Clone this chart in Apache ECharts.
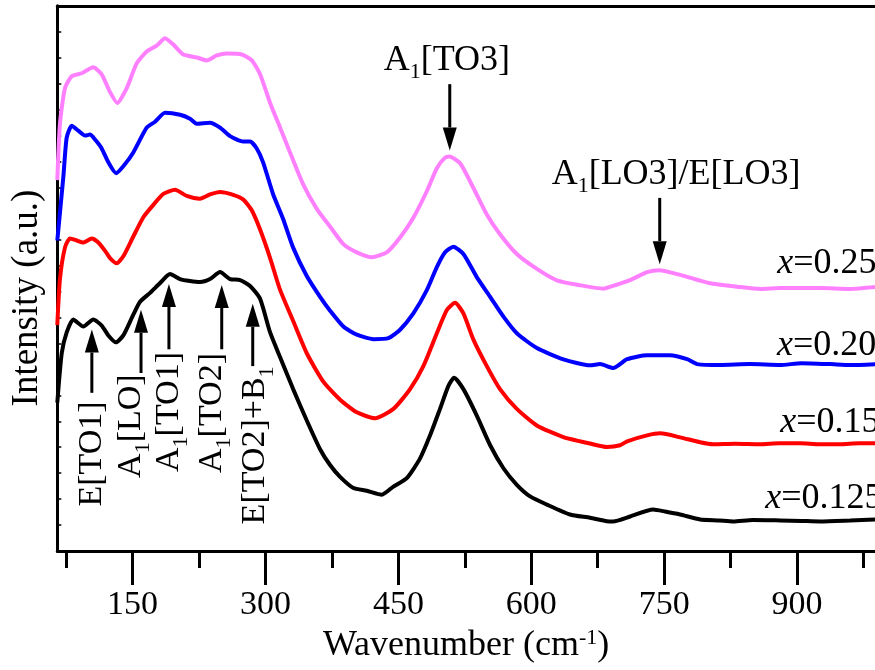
<!DOCTYPE html>
<html><head><meta charset="utf-8">
<script src="https://cdn.jsdelivr.net/npm/echarts@6/dist/echarts.min.js"></script>
<style>html,body{margin:0;padding:0;background:#fff}#c{width:875px;height:670px}</style>
</head><body><div id="c"></div><script>
const FONT = 'Liberation Serif';

// ---- data: [wavenumber (cm-1), intensity (a.u., offset spectra)] ----
const spec0125 = [[65,600],[70,800],[75.6,884],[83,936],[94.4,908],[105.6,936],[115.1,912],[122.6,872],[131.3,844],[139.5,872],[150.8,956],[158.4,1008],[169.7,1044],[181,1084],[192.2,1120],[203.5,1100],[214.8,1092],[226.1,1088],[237.4,1100],[248.7,1128],[260,1100],[271.3,1096],[282.6,1072],[293.9,1020],[305.2,884],[316.5,784],[331.1,656],[346.6,528],[361.6,412],[372.9,348],[384.2,300],[399.2,255],[414.3,244],[431.3,228],[444.4,261],[459.5,295],[474.5,375],[485.8,468],[497.1,576],[506.5,668],[512.9,701],[523.4,655],[538.5,548],[553.6,428],[568.6,335],[583.7,268],[598.7,221],[617.6,188],[643.7,148],[666.3,135],[685.3,121],[692.4,120],[711.6,140],[737.5,168],[751,160],[768,148],[790.6,128],[812,124],[827.9,120],[850,126],[880.9,124],[905,122],[926,120],[960,124],[988,128]];
const spec015 = [[65,914],[68,1100],[73.7,1228],[79.3,1264],[86.9,1256],[94.4,1248],[103.8,1264],[111.3,1248],[118.9,1214],[124.5,1185],[132.1,1164],[139.5,1192],[150.8,1272],[162.1,1350],[173.4,1400],[184.7,1444],[197.9,1461],[211.1,1436],[226.1,1425],[237.4,1442],[248.7,1452],[261.9,1442],[275,1421],[284.5,1378],[293.9,1300],[305.2,1185],[316.5,1056],[331.5,928],[346.6,800],[365.3,685],[384.2,612],[403.1,561],[423.7,537],[444.4,575],[463.2,655],[478.2,748],[493.4,881],[504.7,975],[514,1004],[523.4,961],[534.7,855],[549.8,748],[564.7,655],[583.7,575],[606.3,508],[636.3,461],[666.3,435],[685.3,421],[700.3,428],[708.2,444],[730.8,468],[745.5,476],[768,460],[790.6,440],[805.3,432],[830,434],[858.4,432],[880,436],[903.5,436],[925,432],[948.7,432],[970,436],[988,436]];
const spec020 = [[65,1256],[71.8,1512],[75.6,1672],[81.3,1720],[88.7,1700],[96.3,1680],[101.9,1684],[107.6,1664],[115.1,1628],[122.6,1572],[131.3,1528],[139.5,1556],[150.8,1612],[165.9,1712],[175.3,1736],[186.6,1772],[203.5,1764],[214.8,1748],[222.4,1728],[237.4,1732],[248.7,1712],[260,1678],[274.7,1656],[282.6,1656],[290.1,1628],[297.3,1572],[308.5,1444],[319.8,1344],[331.1,1228],[346.6,1112],[361.6,1028],[372.9,972],[387.9,908],[403.1,875],[421.8,857],[438.7,861],[451.9,895],[466.9,961],[482.1,1055],[493.4,1148],[502.7,1208],[512.1,1231],[523.4,1201],[538.5,1108],[553.6,1028],[568.6,948],[583.7,881],[606.3,821],[636.3,775],[666.3,751],[677.6,756],[692.4,740],[708.2,776],[730.8,792],[756.6,792],[775.9,776],[787.2,756],[813,752],[846.9,756],[880.9,752],[905,760],[937.3,756],[960,752],[988,756]];
const spec025 = [[65,1500],[68,1728],[73.7,1872],[81.3,1920],[92.5,1932],[105.6,1956],[115.1,1928],[124.5,1856],[132.7,1812],[143.4,1872],[154.6,1972],[165.9,2020],[177.2,2044],[186.6,2074],[196,2048],[207.3,2008],[222.4,1996],[233.7,1984],[245,2004],[256.3,2012],[273.2,2008],[284.5,1984],[293.9,1928],[305.2,1812],[316.5,1712],[327.7,1612],[342.4,1484],[357.9,1384],[372.9,1312],[387.9,1241],[403.1,1208],[420,1188],[436.9,1208],[451.9,1268],[466.9,1348],[482.1,1455],[493.4,1548],[502.7,1591],[507.6,1595],[519.7,1568],[534.7,1468],[549.8,1361],[564.7,1281],[583.7,1201],[606.3,1141],[628.9,1095],[655,1075],[681.5,1061],[688.6,1068],[711.6,1096],[730.8,1128],[744.4,1136],[769.2,1116],[800.4,1084],[834.7,1068],[858.4,1060],[881,1064],[926,1064],[960,1060],[988,1068]];

const seriesNames = ['x=0.125', 'x=0.15', 'x=0.20', 'x=0.25'];
const majorTicks = [150, 300, 450, 600, 750, 900];
const minorTicks = [75, 225, 375, 525, 675, 825, 975];

// ---- annotations (anchored in data coordinates) ----
const modeLabelsVertical = [
  { text: 'E[TO1]', x: 104.2, y: 180 },
  { text: 'A{s|1}[LO]', x: 148.2, y: 296 },
  { text: 'A{s|1}[TO1]', x: 191.1, y: 320 },
  { text: 'A{s|1}[TO2]', x: 239.7, y: 316 },
  { text: 'E[TO2]+B{s|1}', x: 288.2, y: 108 }
];
const modeLabelsHorizontal = [
  { text: 'A{s|1}[TO3]', x: 433.5, y: 1984 },
  { text: 'A{s|1}[LO3]/E[LO3]', x: 623, y: 1522 }
];
const compLabels = [
  { text: '{i|x}=0.25', x: 877.6, y: 1162 },
  { text: '{i|x}=0.20', x: 877.3, y: 832 },
  { text: '{i|x}=0.15', x: 881, y: 520 },
  { text: '{i|x}=0.125', x: 864, y: 212 }
];
// [wavenumber, tip intensity, tail intensity]
const arrows = [
  [104, 896, 640], [159.5, 976, 720], [191, 1080, 816], [250.6, 1076, 816], [285.6, 1000, 748],
  [508, 1620, 1888], [745, 1160, 1428]
];

const colors = ['#000000', '#ff0000', '#0000ff', '#ff80ff'];
const chart = echarts.init(document.getElementById('c'), null, { renderer: 'canvas' });

const specs = [spec0125, spec015, spec020, spec025];
const series = specs.map((d, i) => ({
  name: seriesNames[i], type: 'line', xAxisIndex: 0, data: d, showSymbol: false, smooth: 0.2,
  lineStyle: { color: colors[i], width: 4 }, z: 10 - i, silent: true
})).reverse();

chart.setOption({
  animation: false,
  backgroundColor: '#fff',
  grid: { left: 57.3, top: 5.75, right: 0, height: 551.25, show: false },
  xAxis: [{
    type: 'value', min: 65, max: 988, position: 'bottom',
    axisLine: { lineStyle: { color: '#000', width: 3 } },
    axisTick: { show: true, customValues: majorTicks, length: 34, lineStyle: { color: '#000', width: 3 } },
    axisLabel: { customValues: majorTicks, margin: 37, color: '#000', fontFamily: FONT, fontSize: 34 },
    splitLine: { show: false },
    name: 'Wavenumber (cm{sup|-1})', nameLocation: 'middle', nameGap: 73,
    nameTextStyle: { color: '#000', fontFamily: FONT, fontSize: 36, lineHeight: 38,
      rich: { sup: { fontFamily: FONT, fontSize: 22, lineHeight: 22, verticalAlign: 'top', color: '#000' } } }
  }, {
    type: 'value', min: 65, max: 988, position: 'bottom',
    axisLine: { show: false },
    axisTick: { show: true, customValues: minorTicks, length: 17, lineStyle: { color: '#000', width: 3 } },
    axisLabel: { show: false }, splitLine: { show: false }
  }, {
    type: 'value', min: 65, max: 988, position: 'top',
    axisLine: { show: true, lineStyle: { color: '#000', width: 3 } },
    axisTick: { show: false }, axisLabel: { show: false }, splitLine: { show: false }
  }],
  yAxis: {
    type: 'value', min: 0, max: 2205, interval: 105,
    axisLine: { show: true, lineStyle: { color: '#000', width: 3 } },
    axisTick: { show: true, inside: true, length: 4, lineStyle: { color: '#000', width: 1.5 } },
    axisLabel: { show: false }, splitLine: { show: false }
  },
  series: series
});

const P = (x, y) => chart.convertToPixel({ xAxisIndex: 0, yAxisIndex: 0 }, [x, y]);
const subRich = { s: { fontFamily: FONT, fontSize: 22, lineHeight: 22, verticalAlign: 'bottom', fill: '#000' },
                  i: { fontFamily: FONT, fontSize: 36, fontStyle: 'italic', lineHeight: 46, fill: '#000' } };
const g = [];
modeLabelsVertical.forEach(l => {
  const p = P(l.x, l.y);
  g.push({ type: 'text', x: p[0], y: p[1], rotation: Math.PI / 2, z: 100,
    style: { text: l.text, fontFamily: FONT, fontSize: 34, lineHeight: 46, fill: '#000', align: 'left', verticalAlign: 'middle', rich: subRich } });
});
modeLabelsHorizontal.concat(compLabels).forEach(l => {
  const p = P(l.x, l.y);
  g.push({ type: 'text', x: p[0], y: p[1], z: 100,
    style: { text: l.text, fontFamily: FONT, fontSize: 36, lineHeight: 46, fill: '#000', align: 'left', verticalAlign: 'middle', rich: subRich } });
});
arrows.forEach(a => {
  const tip = P(a[0], a[1]), tail = P(a[0], a[2]);
  const dir = tail[1] > tip[1] ? 1 : -1;
  const headLen = 23, hw = 7;
  const base = tip[1] + dir * headLen;
  g.push({ type: 'line', z: 100, shape: { x1: tip[0], y1: base, x2: tail[0], y2: tail[1] }, style: { stroke: '#000', lineWidth: 3 } });
  g.push({ type: 'polygon', z: 100, shape: { points: [[tip[0], tip[1]], [tip[0] - hw, base], [tip[0] + hw, base]] }, style: { fill: '#000' } });
});
g.push({ type: 'text', x: 27, y: 298, rotation: Math.PI / 2, z: 100,
  style: { text: 'Intensity (a.u.)', fontFamily: FONT, fontSize: 37, fill: '#000', align: 'center', verticalAlign: 'middle' } });
chart.setOption({ graphic: g });
</script></body></html>
